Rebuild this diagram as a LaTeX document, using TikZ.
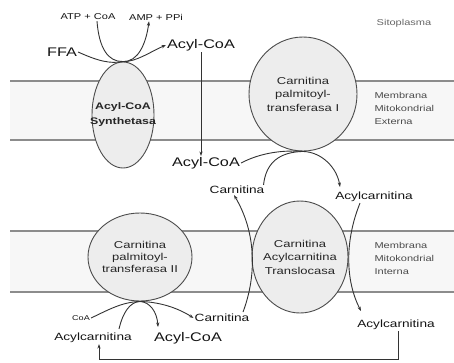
\documentclass[tikz,border=0pt]{standalone}
\usepackage{fontspec}
\setmainfont{Liberation Sans}[FakeStretch=1.3]
\usetikzlibrary{arrows.meta,shapes.geometric}

\begin{document}
\begin{tikzpicture}[x=1pt,y=-1pt,
  lbl/.style={text=black!92, inner sep=1pt},
  lbig/.style={lbl, font=\fontsize{12.5}{14}\selectfont},
  lmid/.style={lbl, font=\fontsize{10.5}{12}\selectfont},
  lsml/.style={lbl, font=\fontsize{8.5}{10}\selectfont},
  ltiny/.style={lbl, font=\fontsize{7}{8}\selectfont},
  enzyme/.style={ellipse, draw=black!70, line width=0.9pt, fill=black!7, inner sep=0pt},
  enztext/.style={align=center, text=black!85, font=\fontsize{10}{13}\selectfont},
  membr/.style={align=left, anchor=west, text=black!70, font=\fontsize{8.5}{13}\selectfont},
  memline/.style={draw=black!45, line width=1.5pt},
  flow/.style={draw=black!80, line width=0.9pt},
  tip/.style={-{Stealth[length=4.5pt,width=3.2pt]}}
]
\useasboundingbox (0,0) rectangle (454,362);

% membranes
\fill[black!3] (10,81) rectangle (454,140);
\draw[memline] (10,81) -- (454,81);
\draw[memline] (10,140) -- (454,140);
\fill[black!3] (10,231) rectangle (454,292);
\draw[memline] (10,231) -- (454,231);
\draw[memline] (10,292) -- (454,292);

% enzymes
\node[enzyme, minimum width=62pt, minimum height=106pt] (acs) at (123,115) {};
\node[enztext, font=\bfseries\fontsize{9.5}{15}\selectfont] (acstext) at (acs.center) {Acyl-CoA\\Synthetasa};
\node[enzyme, minimum width=108pt, minimum height=114pt] (cpt1) at (303,94) {};
\node[enztext, font=\fontsize{10}{13.5}\selectfont] (cpt1text) at (cpt1.center) {Carnitina\\palmitoyl-\\transferasa I};
\node[enzyme, minimum width=104pt, minimum height=88pt] (cpt2) at (140,257) {};
\node[enztext, font=\fontsize{10}{12}\selectfont] (cpt2text) at (cpt2.center) {Carnitina\\palmitoyl-\\transferasa II};
\node[enzyme, minimum width=96pt, minimum height=112pt] (cact) at (300,257) {};
\node[enztext, font=\fontsize{10}{13.5}\selectfont] (cacttext) at (cact.center) {Carnitina\\Acylcarnitina\\Translocasa};

% compartment labels
\node[lsml, text=black!60] (sito) at (404,23) {Sitoplasma};
\node[membr] (memext) at (371,108) {Membrana\\Mitokondrial\\Externa};
\node[membr] (memint) at (371,258) {Membrana\\Mitokondrial\\Interna};

% metabolites
\node[lsml] (atp) at (88,17) {ATP + CoA};
\node[lsml] (amp) at (156,17) {AMP + PPi};
\node[lbig] (ffa) at (62,52) {FFA};
\node[lbig] (acoa1) at (201,45) {Acyl-CoA};
\node[lbig] (acoa2) at (206,163) {Acyl-CoA};
\node[lmid] (carn1) at (237,190) {Carnitina};
\node[lmid] (acyl1) at (374,197) {Acylcarnitina};
\node[ltiny] (coa) at (81,318) {CoA};
\node[lmid] (carn2) at (222,318) {Carnitina};
\node[lmid] (acyl2) at (396,325) {Acylcarnitina};
\node[lmid] (acyl3) at (93,338) {Acylcarnitina};
\node[lbig] (acoa3) at (188,338) {Acyl-CoA};

% activation in the cytoplasm
\draw[flow, tip] (ffa.east) .. controls (98,61) and (110,64) .. (acs.north)
  .. controls (136,62) and (150,52) .. (acoa1.west);
\draw[flow, tip] ([xshift=9pt]atp.south) .. controls (99,48) and (108,62) .. (acs.north)
  .. controls (138,62) and (146,44) .. ([xshift=-7pt]amp.south);
\draw[flow, tip] (acoa1.south) -- (acoa1.south |- acoa2.north);

% CPT I
\draw[flow, tip] (acoa2.east) .. controls (262,152) and (285,150) .. (cpt1.south)
  .. controls (322,152) and (337,168) .. (340,187);
\draw[flow] ([xshift=-2pt]carn1.north east) .. controls (266,162) and (280,152) .. (cpt1.south);

% translocase
\draw[flow, tip] (243,312) .. controls (257,275) and (256,232) .. ([xshift=-3pt]carn1.south);
\draw[flow, tip] ([xshift=-14pt]acyl1.south) .. controls (345,240) and (345,280) .. (361,311);

% CPT II
\draw[flow, tip] (coa.east) .. controls (108,310) and (122,302) .. (cpt2.south)
  .. controls (160,302) and (178,308) .. (carn2.west);
\draw[flow, tip] (119,329) .. controls (123,312) and (130,302) .. (cpt2.south)
  .. controls (150,302) and (157,312) .. (158,327);

% return of acylcarnitine
\coordinate (loopR) at (398,359);
\coordinate (loopL) at (99,359);
\draw[flow, tip] (acyl2.south -| loopR) -- (loopR) -- (loopL) -- (loopL |- acyl3.south);
\end{tikzpicture}
\end{document}
